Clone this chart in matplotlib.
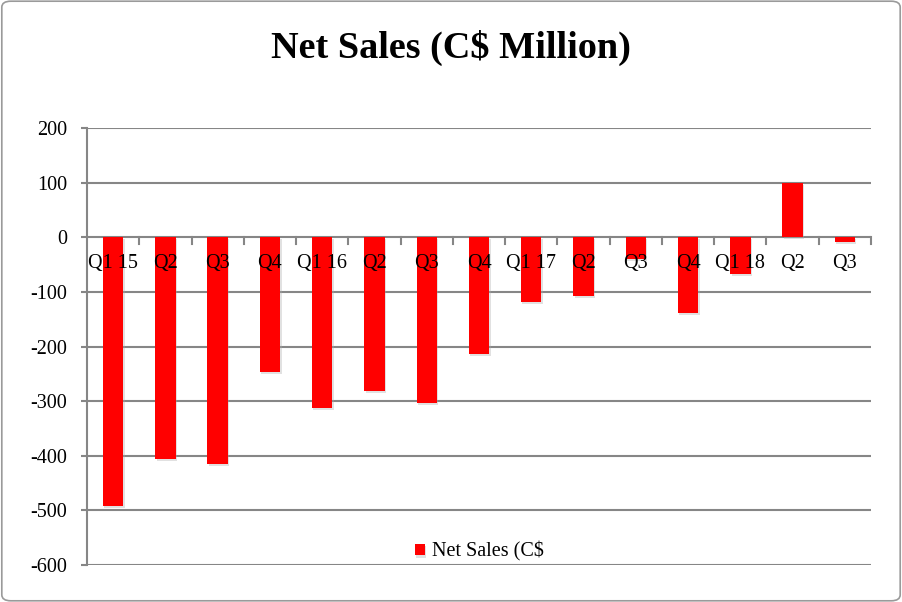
import matplotlib

matplotlib.use("Agg")

import matplotlib.pyplot as plt
import matplotlib.patheffects as pe
from matplotlib.patches import FancyBboxPatch
import numpy as np

quarters = ["Q1 15", "Q2", "Q3", "Q4", "Q1 16", "Q2", "Q3", "Q4",
            "Q1 17", "Q2", "Q3", "Q4", "Q1 18", "Q2", "Q3"]
net_sales = [-492, -406, -415, -247, -313, -282, -304, -214,
             -119, -108, -39, -139, -67, 99, -9]
y_ticks = [-600, -500, -400, -300, -200, -100, 0, 100, 200]

plt.rcParams["font.family"] = ["Liberation Serif", "DejaVu Serif"]
GRID = "#868686"

fig = plt.figure(figsize=(9.02, 6.02), dpi=100)
fig.patches.append(FancyBboxPatch((0.002, 0.002), 0.996, 0.996, boxstyle="round,pad=0,rounding_size=0.01",
                                  transform=fig.transFigure, fill=False, edgecolor="#9a9a9a", linewidth=1.2))

W, H = 902, 602
ax = fig.add_axes([87 / W, 1 - 565 / H, (871 - 87) / W, (565 - 128) / H])

x = np.arange(len(quarters))
shadow = [pe.SimplePatchShadow(offset=(1, -1.5), shadow_rgbFace="#aaaaaa", alpha=0.35), pe.Normal()]
bars = ax.bar(x, net_sales, width=0.39, color="#ff0000", zorder=3, label="Net Sales (C$")
for b in bars:
    b.set_path_effects(shadow)

ax.set_xlim(-0.5, len(quarters) - 0.5)
ax.set_ylim(-600, 200)
ax.set_yticks(y_ticks)
ax.set_yticklabels([str(v) for v in y_ticks], fontsize=14.5)
ax.tick_params(axis="y", length=4.5, width=1.5, color=GRID, pad=10)
ax.grid(axis="y", color=GRID, linewidth=1.5, zorder=0)
ax.set_axisbelow(True)

ax.set_xticks([])
for side in ["top", "right", "bottom"]:
    ax.spines[side].set_visible(False)
ax.spines["left"].set_color(GRID)
ax.spines["left"].set_linewidth(1.5)

# category separators on the zero line
for i in range(1, len(quarters) + 1):
    ax.plot([i - 0.5, i - 0.5], [0, -12], color=GRID, linewidth=1.5, zorder=2, clip_on=False)

for i, lab in enumerate(quarters):
    ax.text(i, -48, lab, ha="center", va="center", fontsize=14.5, zorder=5)

ax.legend(loc="center", bbox_to_anchor=(0.5, 0.03), frameon=False, fontsize=14.5, borderpad=0,
          handlelength=0.5, handleheight=0.5, handletextpad=0.35)

fig.text(0.5, 1 - 48 / H, "Net Sales (C$ Million)", ha="center", va="center",
         fontsize=27.5, fontweight="bold")

fig.savefig("out.png", dpi=100)
